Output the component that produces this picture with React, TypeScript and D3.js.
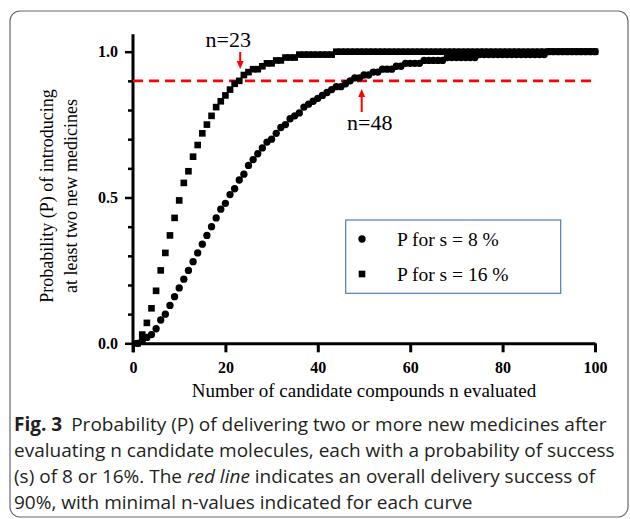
import React, { useEffect, useRef } from 'react';
import * as d3 from 'd3';

// P(at least two successes), n = 1..100
const pS8: number[] = [
  0, 0.01, 0.02, 0.03, 0.05, 0.08, 0.1, 0.13, 0.16, 0.19,
  0.22, 0.25, 0.28, 0.31, 0.34, 0.37, 0.4, 0.43, 0.46, 0.48,
  0.51, 0.53, 0.56, 0.58, 0.61, 0.63, 0.65, 0.67, 0.69, 0.7,
  0.72, 0.74, 0.75, 0.77, 0.78, 0.79, 0.81, 0.82, 0.83, 0.84,
  0.85, 0.86, 0.87, 0.88, 0.88, 0.89, 0.9, 0.91, 0.91, 0.92,
  0.92, 0.93, 0.93, 0.94, 0.94, 0.94, 0.95, 0.95, 0.96, 0.96,
  0.96, 0.96, 0.97, 0.97, 0.97, 0.97, 0.97, 0.98, 0.98, 0.98,
  0.98, 0.98, 0.98, 0.98, 0.99, 0.99, 0.99, 0.99, 0.99, 0.99,
  0.99, 0.99, 0.99, 0.99, 0.99, 0.99, 0.99, 0.99, 0.99, 1,
  1, 1, 1, 1, 1, 1, 1, 1, 1, 1,
];

const pS16: number[] = [
  0, 0.03, 0.07, 0.12, 0.18, 0.25, 0.31, 0.37, 0.43, 0.49,
  0.55, 0.59, 0.64, 0.68, 0.72, 0.75, 0.78, 0.81, 0.83, 0.85,
  0.87, 0.89, 0.9, 0.92, 0.93, 0.94, 0.94, 0.95, 0.96, 0.96,
  0.97, 0.97, 0.98, 0.98, 0.98, 0.99, 0.99, 0.99, 0.99, 0.99,
  0.99, 0.99, 0.99, 1, 1, 1, 1, 1, 1, 1,
  1, 1, 1, 1, 1, 1, 1, 1, 1, 1,
  1, 1, 1, 1, 1, 1, 1, 1, 1, 1,
  1, 1, 1, 1, 1, 1, 1, 1, 1, 1,
  1, 1, 1, 1, 1, 1, 1, 1, 1, 1,
  1, 1, 1, 1, 1, 1, 1, 1, 1, 1,
];

const xTicks = [0, 20, 40, 60, 80, 100];
const yMajor = [0, 0.5, 1.0];
const yMinor = [0.1, 0.2, 0.3, 0.4, 0.6, 0.7, 0.8, 0.9];
const target = 0.9;
const marks = [
  { n: 23, label: 'n=23', arrowAt: 23.2 },
  { n: 48, label: 'n=48', arrowAt: 49.5 },
];
const legendItems = [
  { label: 'P for s = 8 %', shape: 'circle' },
  { label: 'P for s = 16 %', shape: 'square' },
];
const captionLines = [
  'evaluating n candidate molecules, each with a probability of success',
  '90%, with minimal n-values indicated for each curve',
];

const serif = '"Liberation Serif", "Times New Roman", serif';
const sans = '"Open Sans", "Noto Sans", sans-serif';

export default function App() {
  const ref = useRef<SVGSVGElement>(null);

  useEffect(() => {
    if (!ref.current) return;
    const svg = d3.select(ref.current);
    svg.selectAll('*').remove();

    const x = d3.scaleLinear().domain([0, 100]).range([133, 595]);
    const y = d3.scaleLinear().domain([0, 1.06]).range([343.3, 34.2]);

    // card frame
    svg.append('rect')
      .attr('x', 10).attr('y', 11).attr('width', 618).attr('height', 506)
      .attr('rx', 10).attr('fill', 'none').attr('stroke', '#666').attr('stroke-width', 1.2);

    // x axis
    const gx = svg.append('g').attr('transform', `translate(0,${y(0)})`)
      .call(d3.axisBottom(x).tickValues(xTicks).tickSize(9).tickSizeOuter(0).tickFormat(d3.format('d')));
    gx.select('.domain').attr('stroke-width', 3);
    gx.selectAll('.tick line').attr('stroke-width', 3);
    gx.selectAll('.tick text')
      .attr('y', 29.5).attr('dy', 0)
      .style('font-family', serif).style('font-weight', 'bold').style('font-size', '16px').attr('fill', '#000');

    // y axis: minor then major
    const gyMinor = svg.append('g').attr('transform', `translate(${x(0)},0)`)
      .call(d3.axisLeft(y).tickValues(yMinor).tickSize(5).tickSizeOuter(0).tickFormat(() => ''));
    gyMinor.select('.domain').remove();
    gyMinor.selectAll('.tick line').attr('stroke-width', 2.5);

    const gy = svg.append('g').attr('transform', `translate(${x(0)},0)`)
      .call(d3.axisLeft(y).tickValues(yMajor).tickSize(8).tickSizeOuter(0).tickFormat(d3.format('.1f')));
    gy.select('.domain').attr('stroke-width', 3).attr('d', `M0,${y(1.06)}V${y(0) + 9}`);
    gy.selectAll('.tick line').attr('stroke-width', 2.5);
    gy.selectAll('.tick text')
      .attr('x', -15)
      .style('font-family', serif).style('font-weight', 'bold').style('font-size', '16px').attr('fill', '#000');

    // axis titles
    svg.append('text')
      .attr('x', 364).attr('y', 397).attr('text-anchor', 'middle')
      .style('font-family', serif).style('font-size', '19px')
      .text('Number of candidate compounds n evaluated');

    const yl = svg.append('g').attr('transform', `translate(0,${196}) rotate(-90)`);
    yl.append('text').attr('x', 0).attr('y', 53).attr('text-anchor', 'middle')
      .style('font-family', serif).style('font-size', '18px')
      .text('Probability (P) of introducing');
    yl.append('text').attr('x', 0).attr('y', 76.5).attr('text-anchor', 'middle')
      .style('font-family', serif).style('font-size', '18px')
      .text('at least two new medicines');

    // red 90% line
    svg.append('line')
      .attr('x1', x(0)).attr('x2', x(99.5)).attr('y1', y(target)).attr('y2', y(target))
      .attr('stroke', '#ff0000').attr('stroke-width', 2.6).attr('stroke-dasharray', '10,6');

    // series
    const circle = d3.symbol().type(d3.symbolCircle).size(42);
    const square = d3.symbol().type(d3.symbolSquare).size(44);

    svg.append('g').selectAll('path')
      .data(pS8)
      .enter()
      .append('path')
      .attr('d', circle)
      .attr('transform', (d, i) => `translate(${x(i + 1)},${y(d)})`)
      .attr('fill', '#000');

    svg.append('g').selectAll('path')
      .data(pS16)
      .enter()
      .append('path')
      .attr('d', square)
      .attr('transform', (d, i) => `translate(${x(i + 1)},${y(d)})`)
      .attr('fill', '#000');

    // annotations
    const m0 = marks[0];
    const ax0 = x(m0.arrowAt);
    svg.append('line').attr('x1', ax0).attr('x2', ax0).attr('y1', 52).attr('y2', 62)
      .attr('stroke', '#ff0000').attr('stroke-width', 2);
    svg.append('path').attr('d', `M${ax0 - 3.5},61 L${ax0 + 3.5},61 L${ax0},69 Z`).attr('fill', '#ff0000');
    svg.append('text').attr('x', ax0 - 12).attr('y', 47).attr('text-anchor', 'middle')
      .style('font-family', serif).style('font-size', '22px').text(m0.label);

    const m1 = marks[1];
    const ax1 = x(m1.arrowAt);
    svg.append('line').attr('x1', ax1).attr('x2', ax1).attr('y1', 96).attr('y2', 112)
      .attr('stroke', '#ff0000').attr('stroke-width', 2);
    svg.append('path').attr('d', `M${ax1 - 3.5},97 L${ax1 + 3.5},97 L${ax1},89 Z`).attr('fill', '#ff0000');
    svg.append('text').attr('x', ax1 + 8).attr('y', 130).attr('text-anchor', 'middle')
      .style('font-family', serif).style('font-size', '22px').text(m1.label);

    // legend
    svg.append('rect')
      .attr('x', 345.7).attr('y', 220).attr('width', 215).attr('height', 73.3)
      .attr('fill', '#fff').attr('stroke', '#4a7ebb').attr('stroke-width', 1.2);
    legendItems.forEach((it, i) => {
      const cy = 239 + i * 35;
      svg.append('path')
        .attr('d', it.shape === 'circle' ? circle : square)
        .attr('transform', `translate(362,${cy})`);
      svg.append('text').attr('x', 397).attr('y', cy + 6.5)
        .style('font-family', serif).style('font-size', '19.5px').text(it.label);
    });

    // caption
    const cap = svg.append('g').style('font-family', sans).style('font-size', '19px').attr('fill', '#231f20');
    const l1 = cap.append('text').attr('x', 14).attr('y', 431);
    l1.append('tspan').style('font-weight', 'bold').text('Fig. 3');
    l1.append('tspan').attr('dx', 9).text('Probability (P) of delivering two or more new medicines after');
    cap.append('text').attr('x', 14).attr('y', 457).text(captionLines[0]);
    const l3 = cap.append('text').attr('x', 14).attr('y', 483);
    l3.append('tspan').text('(s) of 8 or 16%. The ');
    l3.append('tspan').style('font-style', 'italic').text('red line');
    l3.append('tspan').text(' indicates an overall delivery success of');
    cap.append('text').attr('x', 14).attr('y', 509).text(captionLines[1]);
  }, []);

  return (
    <svg
      ref={ref}
      width={630}
      height={519}
      style={{ position: 'absolute', left: 0, top: 0, background: '#fff' }}
    />
  );
}
